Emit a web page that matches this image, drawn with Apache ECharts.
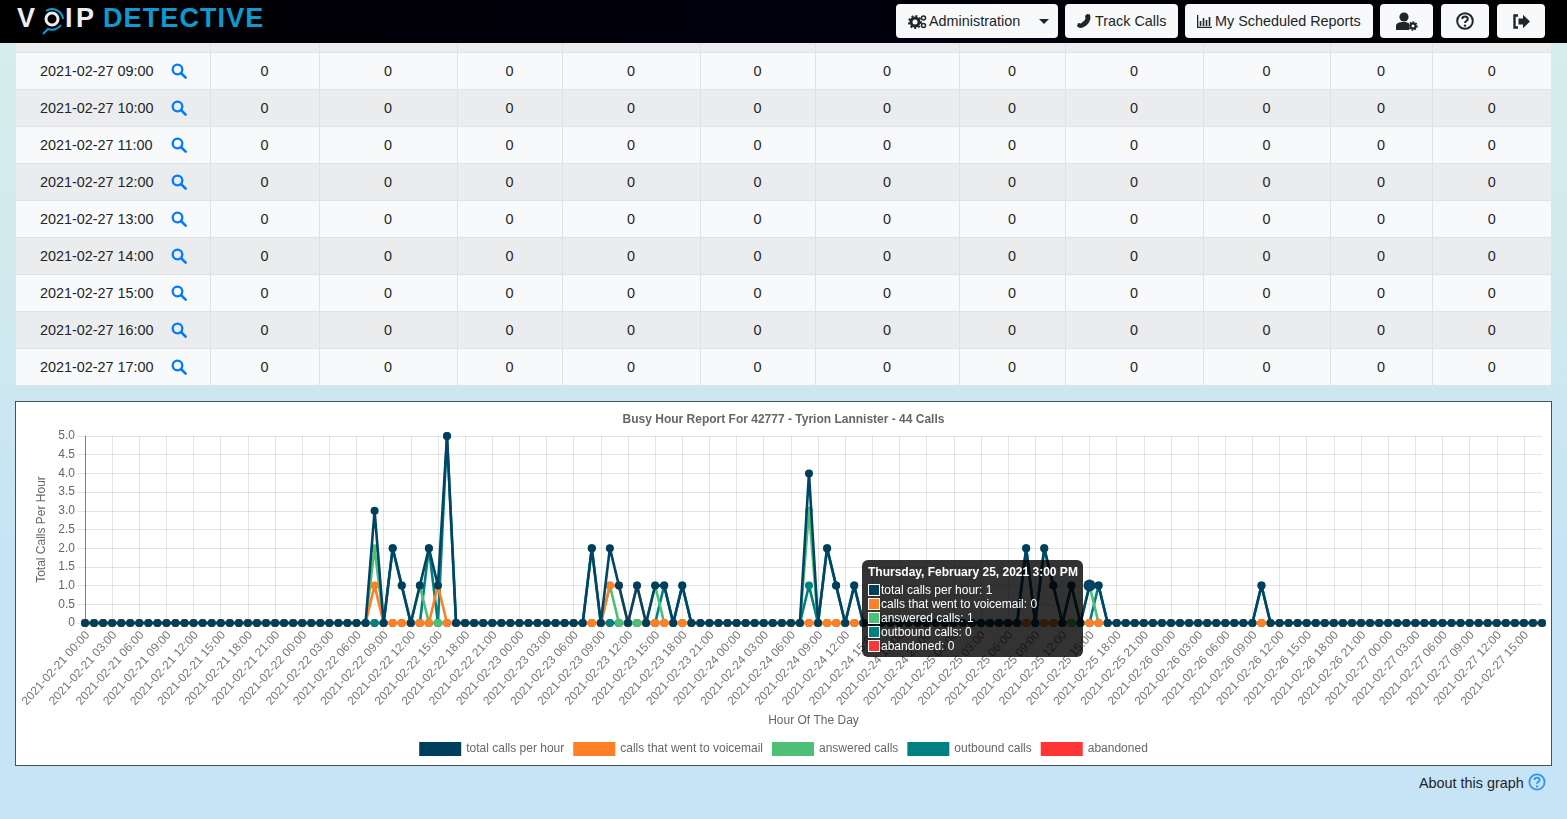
<!DOCTYPE html>
<html>
<head>
<meta charset="utf-8">
<title>Busy Hour Report</title>
<script src="https://cdn.jsdelivr.net/npm/echarts@6/dist/echarts.min.js"></script>
<style>
    html, body { margin: 0; padding: 0; width: 1567px; height: 819px; overflow: hidden; }
    body { position: relative; font-family: "Liberation Sans", Arial, sans-serif; color: #212529;
        background: linear-gradient(180deg, #d6eeeb 0, #cfe9ee 300px, #c6e4f6 560px); }
    #topbar { position: absolute; left: 0; top: 0; width: 1567px; height: 43px; z-index: 5;
        background: linear-gradient(90deg, #000 0, #02000f 50%, #000 100%); }
    .logo { position: absolute; top: 3px; font-size: 27px; font-weight: bold; color: #eee; line-height: 30px; }
    .btn { position: absolute; top: 4px; height: 34px; line-height: 34px; background: #f8f9fa; border-radius: 4px;
        font-size: 14.4px; color: #212529; white-space: nowrap; box-sizing: border-box; }
    .btn svg { position: absolute; top: 0; bottom: 0; margin: auto; }
    .btn span { position: absolute; top: 0; }
    #tablewrap { position: absolute; left: 16px; top: 43px; width: 1535px; height: 343px; overflow: hidden; }
    table { border-collapse: collapse; table-layout: fixed; width: 1535px; font-size: 14.4px; }
    td { border-right: 1px solid #dee2e6; border-bottom: 1px solid #dee2e6; text-align: center; padding: 0; box-sizing: border-box; height: 37px; }
    td:last-child { border-right: 0; }
    tr.a td { background: #f8f9fb; }
    tr.b td { background: #ebecee; }
    tr.first td { height: 9px; }
    td.when { text-align: left; padding-left: 24px; position: relative; }
    td.when svg { position: absolute; left: 155px; top: 10px; }
    #box { position: absolute; left: 15px; top: 401px; width: 1537px; height: 365px; box-sizing: border-box;
        border: 1px solid #4a5055; background: #fff; }
    #main { width: 1535px; height: 363px; }
    #about { position: absolute; left: 1419px; top: 775px; font-size: 14.4px; line-height: 17px; }
    #abouticon { position: absolute; left: 1528px; top: 773px; }
    .tip-row { height: 14px; line-height: 14px; white-space: nowrap; }
    .tip-row i { display: inline-block; width: 10px; height: 10px; border: 1px solid #fff; vertical-align: -2px; margin-right: 1px; }
</style>
</head>
<body>
<div id="topbar">
    <div class="logo" style="left:17px">V</div>
    <svg style="position:absolute;left:38px;top:4px" width="28" height="32" viewBox="0 0 28 32">
        <circle cx="14" cy="15" r="6" fill="none" stroke="#eee" stroke-width="3"/>
        <path d="M8 7 A11 11 0 0 1 25 15 M23 21 A11 11 0 0 1 10 25 L5 30" fill="none" stroke="#0c9ad0" stroke-width="2"/>
    </svg>
    <div class="logo" style="left:65px;letter-spacing:3.5px">IP</div>
    <div class="logo" style="left:103px;color:#0c9ad0;letter-spacing:1.1px">DETECTIVE</div>

    <div class="btn" style="left:896px;width:162px">
        <svg style="left:12px" width="19" height="15" viewBox="0 0 19 15"><circle cx="7" cy="8" r="4" fill="none" stroke="#212529" stroke-width="3"/><circle cx="7" cy="8" r="6" fill="none" stroke="#212529" stroke-width="2" stroke-dasharray="2 2"/><circle cx="15.5" cy="4" r="2" fill="none" stroke="#212529" stroke-width="1.5"/><circle cx="15.5" cy="11.5" r="2" fill="none" stroke="#212529" stroke-width="1.5"/></svg>
        <span style="left:33px">Administration</span>
        <svg style="left:143px" width="10" height="5" viewBox="0 0 10 5"><path d="M0 0H10L5 5Z" fill="#212529"/></svg>
    </div>
    <div class="btn" style="left:1065px;width:113px">
        <svg style="left:12px" width="14" height="14" viewBox="0 0 14 14"><path d="M13 0.5 L13.5 4 C13 9 8.5 13.5 3 14 L0 12.5 L1 9 L4 9.5 L5.5 8 C7 7 8 6 8.5 4.5 L8 2 L10 0Z" fill="#212529"/></svg>
        <span style="left:30px">Track Calls</span>
    </div>
    <div class="btn" style="left:1185px;width:188px">
        <svg style="left:12px" width="15" height="13" viewBox="0 0 15 13"><path d="M0.5 0V12.5H15M3.5 11V6M6.5 11V3M9.5 11V5M12.5 11V2" fill="none" stroke="#212529" stroke-width="1.6"/></svg>
        <span style="left:30px">My Scheduled Reports</span>
    </div>
    <div class="btn" style="left:1380px;width:53px">
        <svg style="left:15px" width="24" height="19" viewBox="0 0 24 19"><circle cx="9" cy="5" r="4.6" fill="#212529"/><path d="M1 18V14C1 11 4 10 9 10C11 10 13 10.5 14 11.5V18Z" fill="#212529"/><circle cx="18" cy="14" r="2.6" fill="none" stroke="#212529" stroke-width="2.2"/><circle cx="18" cy="14" r="4" fill="none" stroke="#212529" stroke-width="1.5" stroke-dasharray="1.5 1.5"/></svg>
    </div>
    <div class="btn" style="left:1441px;width:48px">
        <svg style="left:15px" width="18" height="18" viewBox="0 0 18 18"><circle cx="9" cy="9" r="7.8" fill="none" stroke="#212529" stroke-width="2"/><path d="M6.2 7C6.4 3.6 11.8 3.6 11.8 7C11.8 9 9 9 9 11" fill="none" stroke="#212529" stroke-width="2"/><circle cx="9" cy="13.6" r="1.2" fill="#212529"/></svg>
    </div>
    <div class="btn" style="left:1497px;width:48px">
        <svg style="left:15px" width="18" height="15" viewBox="0 0 18 15"><path d="M6 1.5H2.5V13.5H6" fill="none" stroke="#212529" stroke-width="2.4"/><path d="M6.5 4.5H11V0.8L18 7.5L11 14.2V10.5H6.5Z" fill="#212529"/></svg>
    </div>
</div>

<div id="tablewrap"><table id="hours"></table></div>

<div id="box"><div id="main"></div></div>

<div id="about">About this graph</div>
<svg id="abouticon" width="18" height="18" viewBox="0 0 18 18"><circle cx="9" cy="9" r="7.6" fill="none" stroke="#2f96f0" stroke-width="1.8"/><path d="M6.4 7C6.6 3.8 11.6 3.8 11.6 7C11.6 8.8 9 8.8 9 10.8" fill="none" stroke="#2f96f0" stroke-width="1.8"/><circle cx="9" cy="13.4" r="1.1" fill="#2f96f0"/></svg>

<script>
// 表格部分
var col_widths = [194, 109, 138, 105, 138, 115, 144, 106, 138, 127, 102, 119];
var table_hours = ["09:00", "10:00", "11:00", "12:00", "13:00", "14:00", "15:00", "16:00", "17:00"];
var search_icon = '<svg width="16" height="16" viewBox="0 0 16 16"><circle cx="6.5" cy="6.5" r="4.8" fill="none" stroke="#007bff" stroke-width="2.3"/><path d="M10 10L14.6 14.6" stroke="#007bff" stroke-width="2.6" stroke-linecap="round"/></svg>';
var html = '<colgroup>';
for (let w of col_widths) {
    html += '<col style="width:' + w + 'px">';
}
html += '</colgroup><tr class="b first">';
for (let w of col_widths) {
    html += '<td></td>';
}
html += '</tr>';
table_hours.forEach(function (h, i) {
    html += '<tr class="' + (i % 2 == 0 ? 'a' : 'b') + '"><td class="when">2021-02-27 ' + h + search_icon + '</td>';
    for (var c = 1; c < col_widths.length; c++) {
        html += '<td>0</td>';
    }
    html += '</tr>';
});
document.getElementById('hours').innerHTML = html;

// 图表数据：只列出有通话的小时 [total, voicemail, answered, outbound, abandoned]
var busy_hours = {
    "2021-02-22 08:00": [3, 1, 2, 0, 0],
    "2021-02-22 10:00": [2, 0, 0, 2, 0],
    "2021-02-22 11:00": [1, 0, 0, 1, 0],
    "2021-02-22 13:00": [1, 0, 1, 0, 0],
    "2021-02-22 14:00": [2, 0, 0, 2, 0],
    "2021-02-22 15:00": [1, 1, 0, 0, 0],
    "2021-02-22 16:00": [5, 0, 0, 5, 0],
    "2021-02-23 08:00": [2, 0, 0, 2, 0],
    "2021-02-23 10:00": [2, 1, 1, 0, 0],
    "2021-02-23 11:00": [1, 1, 0, 0, 0],
    "2021-02-23 13:00": [1, 1, 0, 0, 0],
    "2021-02-23 15:00": [1, 0, 1, 0, 0],
    "2021-02-23 16:00": [1, 0, 0, 1, 0],
    "2021-02-23 18:00": [1, 0, 0, 1, 0],
    "2021-02-24 08:00": [4, 0, 3, 1, 0],
    "2021-02-24 10:00": [2, 0, 0, 2, 0],
    "2021-02-24 11:00": [1, 0, 0, 1, 0],
    "2021-02-24 13:00": [1, 0, 0, 1, 0],
    "2021-02-25 08:00": [2, 0, 0, 2, 0],
    "2021-02-25 10:00": [2, 0, 0, 2, 0],
    "2021-02-25 11:00": [1, 0, 0, 1, 0],
    "2021-02-25 13:00": [1, 1, 0, 0, 0],
    "2021-02-25 15:00": [1, 0, 1, 0, 0],
    "2021-02-25 16:00": [1, 0, 0, 1, 0],
    "2021-02-26 10:00": [1, 0, 0, 1, 0]
};

function pad(n) {
    return n < 10 ? '0' + n : '' + n;
}

var names = ['total calls per hour', 'calls that went to voicemail', 'answered calls', 'outbound calls', 'abandoned'];
var colors = ['#003f5c', '#ff7f27', '#4dc076', '#008080', '#ff3535'];
var hours = [];
var values = [[], [], [], [], []];
for (var d = 21; d <= 27; d++) {
    for (var h = 0; h < 24; h++) {
        if (d == 27 && h > 17) break;
        var key = '2021-02-' + d + ' ' + pad(h) + ':00';
        hours.push(key);
        var row = busy_hours[key] || [0, 0, 0, 0, 0];
        for (var s = 0; s < 5; s++) {
            values[s].push(row[s]);
        }
    }
}

var series = names.map(function (name, i) {
    return {
        name: name,
        type: 'line',
        data: values[i],
        z: 10 - i, // 第一条线画在最上面
        clip: false,
        showAllSymbol: true,
        symbol: 'circle',
        symbolSize: 8,
        lineStyle: { color: colors[i], width: 2.6 },
        itemStyle: { color: colors[i] },
        emphasis: { scale: 1.5, focus: 'none' },
        animation: false
    };
});

var myChart = echarts.init(document.getElementById('main'));
var hover_index = hours.indexOf('2021-02-25 15:00');
var option = {
    animation: false,
    textStyle: { fontFamily: '"Liberation Sans", Arial, sans-serif' },
    title: {
        text: 'Busy Hour Report For 42777 - Tyrion Lannister - 44 Calls',
        left: 'center',
        top: 7,
        textStyle: { fontSize: 12, fontWeight: 'bold', color: '#666' }
    },
    legend: {
        top: 335,
        left: 'center',
        itemWidth: 42,
        itemHeight: 14,
        itemGap: 9,
        icon: 'rect',
        textStyle: { fontSize: 12, color: '#666' },
        data: names
    },
    grid: { left: 69, top: 34, width: 1457, height: 187, outerBoundsMode: 'none' },
    tooltip: {
        trigger: 'item',
        alwaysShowContent: true,
        transitionDuration: 0,
        backgroundColor: 'rgba(0,0,0,0.8)',
        borderWidth: 0,
        padding: [5, 6, 6, 6],
        extraCssText: 'box-shadow:none;border-radius:6px;width:221px;height:97px;box-sizing:border-box;',
        textStyle: { color: '#fff', fontSize: 12, fontFamily: '"Liberation Sans", Arial, sans-serif' },
        position: function () {
            return [846, 158];
        },
        formatter: function () {
            var rows = '<div style="font-weight:bold;height:18px;line-height:14px;white-space:nowrap">Thursday, February 25, 2021 3:00 PM</div>';
            names.forEach(function (name, i) {
                rows += '<div class="tip-row"><i style="background:' + colors[i] + '"></i>' + name + ': ' + values[i][hover_index] + '</div>';
            });
            return rows;
        }
    },
    xAxis: {
        type: 'category',
        boundaryGap: false,
        data: hours,
        name: 'Hour Of The Day',
        nameLocation: 'middle',
        nameGap: 92,
        nameTextStyle: { fontSize: 12, color: '#666' },
        axisLine: { show: true, lineStyle: { color: 'rgba(0,0,0,0.25)' } },
        axisTick: { show: true, interval: 2, length: 8, lineStyle: { color: 'rgba(0,0,0,0.1)' } },
        axisLabel: { interval: 2, rotate: 48, fontSize: 12, color: '#777', margin: 13, padding: [0, -4, 0, 0], hideOverlap: false },
        splitLine: { show: true, interval: 2, lineStyle: { color: 'rgba(0,0,0,0.1)' } }
    },
    yAxis: {
        type: 'value',
        min: 0,
        max: 5,
        interval: 0.5,
        name: 'Total Calls Per Hour',
        nameLocation: 'middle',
        nameGap: 37,
        nameTextStyle: { fontSize: 12, color: '#666' },
        axisLine: { show: true, lineStyle: { color: 'rgba(0,0,0,0.45)' } },
        axisTick: { show: true, length: 8, lineStyle: { color: 'rgba(0,0,0,0.1)' } },
        axisLabel: {
            fontSize: 12,
            color: '#666',
            margin: 10,
            padding: [2, 0, 0, 0],
            formatter: function (v) {
                return v == 0 ? '0' : v.toFixed(1);
            }
        },
        splitLine: { show: true, lineStyle: { color: 'rgba(0,0,0,0.1)' } }
    },
    series: series
};
myChart.setOption(option, true);

// 把鼠标悬停时的提示框显示出来
myChart.dispatchAction({ type: 'highlight', seriesIndex: 0, dataIndex: hover_index });
myChart.dispatchAction({ type: 'showTip', seriesIndex: 0, dataIndex: hover_index });
</script>
</body>
</html>
